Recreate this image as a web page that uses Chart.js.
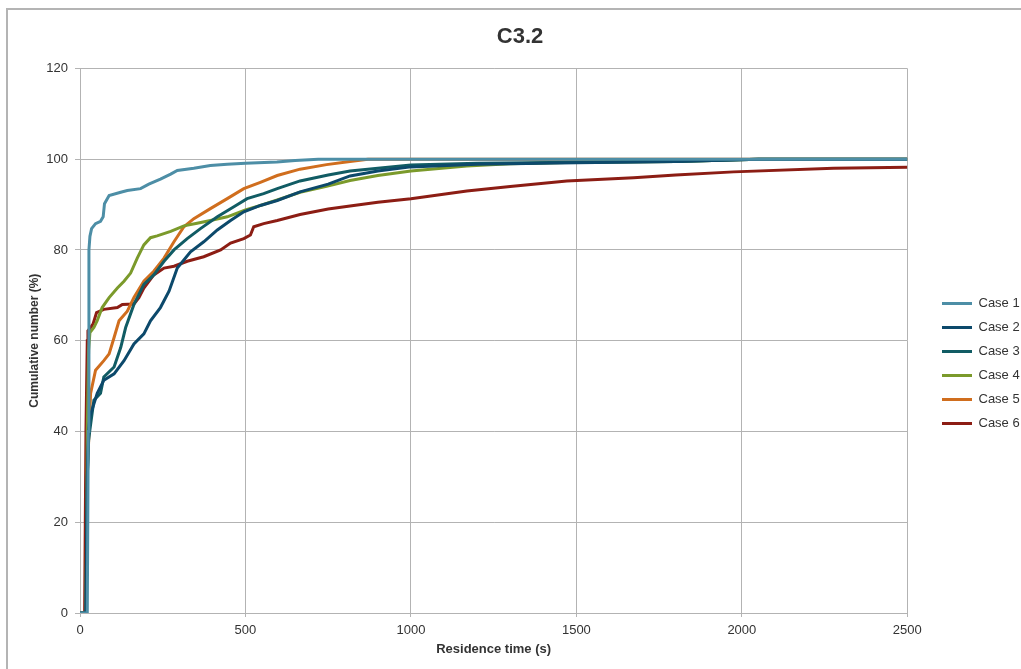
<!DOCTYPE html>
<html>
<head>
<meta charset="utf-8">
<title>C3.2</title>
<script src="https://cdn.jsdelivr.net/npm/chart.js@4/dist/chart.umd.min.js"></script>
<style>
  body { margin: 0; background: #fff; }
  #wrap { position: relative; width: 1021px; height: 669px; }
  #frame { position: absolute; left: 6px; top: 8px; right: 0; bottom: 0;
    border-top: 2px solid #b4b4b4; border-left: 2px solid #b4b4b4; pointer-events: none; }
</style>
</head>
<body>
<div id="wrap">
  <canvas id="chartCanvas" width="1021" height="669"></canvas>
  <div id="frame"></div>
</div>
<script>
'use strict';

// residence time (s), cumulative number (%)
let seriesNames = ['Case 1', 'Case 2', 'Case 3', 'Case 4', 'Case 5', 'Case 6'];
let seriesColors = ['#4d8ea6', '#0c496b', '#115c64', '#7b9a2b', '#d06e1e', '#8c1d14'];

let case1 = [[0,0],[22,0],[25,40],[27,80],[30,83],[35,84.7],[47,85.8],[62,86.3],[70,87.3],[74,90.2],[88,92],
  [123,92.7],[143,93.1],[183,93.5],[208,94.5],[243,95.6],[274,96.7],[294,97.5],[344,98],[394,98.6],[445,98.9],
  [500,99.1],[595,99.4],[650,99.7],[720,100],[2500,100]];

let case2 = [[0,0],[18,0],[22,30],[26,40],[30,43.3],[52,48.4],[72,51.3],[103,52.7],[133,55.6],[163,59.3],[193,61.5],
  [213,64.4],[243,67.3],[269,70.9],[294,76],[334,79.6],[374,81.8],[415,84.4],[455,86.5],[495,88.4],[545,89.8],
  [596,90.9],[665,92.8],[750,94.5],[816,96.3],[900,97.4],[1000,98.3],[1200,98.9],[1500,99.2],[1800,99.5],
  [2050,100],[2500,100]];

let case3 = [[0,0],[18,0],[22,30],[26,38],[30,40.4],[42,46.9],[62,48.4],[72,52],[103,54.2],[123,58.5],[138,62.9],
  [163,68],[193,72.4],[223,74.5],[254,77.5],[284,80],[324,82.5],[364,84.7],[415,87.3],[465,89.5],[505,91.3],
  [555,92.4],[596,93.5],[665,95.2],[750,96.5],[816,97.4],[900,98],[1000,98.7],[1200,99.1],[1500,99.3],
  [1800,99.5],[2050,100],[2500,100]];

let case4 = [[0,0],[18,0],[22,40],[26,58],[30,61.8],[42,62.9],[52,64.4],[67,67.3],[88,69.5],[113,71.6],[133,73.1],
  [153,74.9],[173,78.2],[193,81.1],[213,82.7],[233,83.1],[274,84.1],[314,85.3],[354,85.9],[394,86.5],[445,87.3],
  [500,88.8],[545,89.8],[596,91],[665,92.7],[745,94],[816,95.3],[900,96.4],[1000,97.4],[1169,98.5],[1300,99],
  [1500,99.3],[1800,99.5],[2050,100],[2500,100]];

let case5 = [[0,0],[18,0],[22,30],[27,39.6],[32,48.4],[47,53.5],[72,55.6],[88,57.1],[103,60.7],[118,64.4],[143,66.5],
  [163,69.5],[193,73.1],[223,75.3],[254,78.2],[284,81.8],[314,85.1],[344,86.9],[394,89.1],[445,91.3],[495,93.5],
  [545,94.9],[596,96.4],[665,97.8],[745,98.8],[816,99.5],[870,100],[2500,100]];

let case6 = [[0,0],[14,0],[18,40],[22,60],[24,62.2],[32,62.9],[40,63.8],[50,66.2],[72,66.9],[113,67.3],[128,68],
  [163,68.1],[178,69.5],[193,71.6],[223,74.5],[254,76],[284,76.4],[324,77.5],[374,78.5],[425,80],[455,81.5],
  [495,82.5],[515,83.3],[525,85.1],[555,85.8],[596,86.5],[665,87.8],[750,89],[816,89.7],[900,90.5],[1000,91.3],
  [1169,93],[1300,94],[1471,95.2],[1673,95.9],[1800,96.5],[1975,97.2],[2277,98],[2500,98.2]];

let allCases = [case1, case2, case3, case4, case5, case6];

let xTicks = [0, 500, 1000, 1500, 2000, 2500];
let yTicks = [0, 20, 40, 60, 80, 100, 120];

let fontName = '"Liberation Sans", Arial, sans-serif';
let textColor = '#333333';
let gridColor = '#b3b3b3';

// building the datasets
let datasets = [];
for (let i = 0; i < allCases.length; i++) {
  datasets.push({
    label: seriesNames[i],
    data: allCases[i].map(function (p) { return {x: p[0], y: p[1]}; }),
    borderColor: seriesColors[i],
    backgroundColor: seriesColors[i],
    borderWidth: 3,
    pointRadius: 0,
    tension: 0
  });
}

// moves the legend and title to where they sit in the picture
let boxShift = {
  id: 'boxShift',
  afterLayout(chart) {
    let lg = chart.legend;
    let dx = 942 - (lg.left + lg.options.labels.padding);
    let dy = 29;
    lg.left += dx; lg.right += dx;
    lg.top += dy; lg.bottom += dy;

    let tb = chart.titleBlock;
    let tx = 520 - (tb.left + tb.right) / 2;
    tb.left += tx; tb.right += tx;
  }
};

let ctx = document.getElementById('chartCanvas').getContext('2d');
let chart = new Chart(ctx, {
  type: 'line',
  data: {datasets: datasets},
  plugins: [boxShift],
  options: {
    responsive: false,
    animation: false,
    layout: {padding: {left: 18, right: 15, top: 0, bottom: 0}},
    plugins: {
      title: {
        display: true,
        text: 'C3.2',
        color: textColor,
        font: {family: fontName, size: 22, weight: 'bold'},
        padding: {top: 24, bottom: 18}
      },
      legend: {
        position: 'right',
        labels: {
          usePointStyle: true,
          pointStyle: 'line',
          pointStyleWidth: 30,
          padding: 11,
          color: textColor,
          font: {family: fontName, size: 13}
        }
      },
      tooltip: {enabled: false}
    },
    scales: {
      x: {
        type: 'linear',
        min: 0,
        max: 2500,
        afterFit(scale) { scale.height = 56; },
        afterBuildTicks(scale) { scale.ticks = xTicks.map(function (v) { return {value: v}; }); },
        ticks: {
          color: textColor, font: {family: fontName, size: 13}, padding: 6, maxRotation: 0,
          callback: function (v) { return String(v); }
        },
        grid: {color: gridColor, tickLength: 4},
        border: {color: gridColor},
        title: {
          display: true,
          text: 'Residence time (s)',
          color: textColor,
          font: {family: fontName, size: 13, weight: 'bold'},
          padding: {top: 0, bottom: 12}
        }
      },
      y: {
        min: 0,
        max: 120,
        afterFit(scale) { scale.width = 62; },
        afterBuildTicks(scale) { scale.ticks = yTicks.map(function (v) { return {value: v}; }); },
        ticks: {
          color: textColor, font: {family: fontName, size: 13}, padding: 7,
          callback: function (v) { return String(v); }
        },
        grid: {color: gridColor, tickLength: 5},
        border: {color: gridColor},
        title: {
          display: true,
          text: 'Cumulative number (%)',
          color: textColor,
          font: {family: fontName, size: 12, weight: 'bold'},
          padding: {top: 9, bottom: 0}
        }
      }
    }
  }
});
</script>
</body>
</html>
